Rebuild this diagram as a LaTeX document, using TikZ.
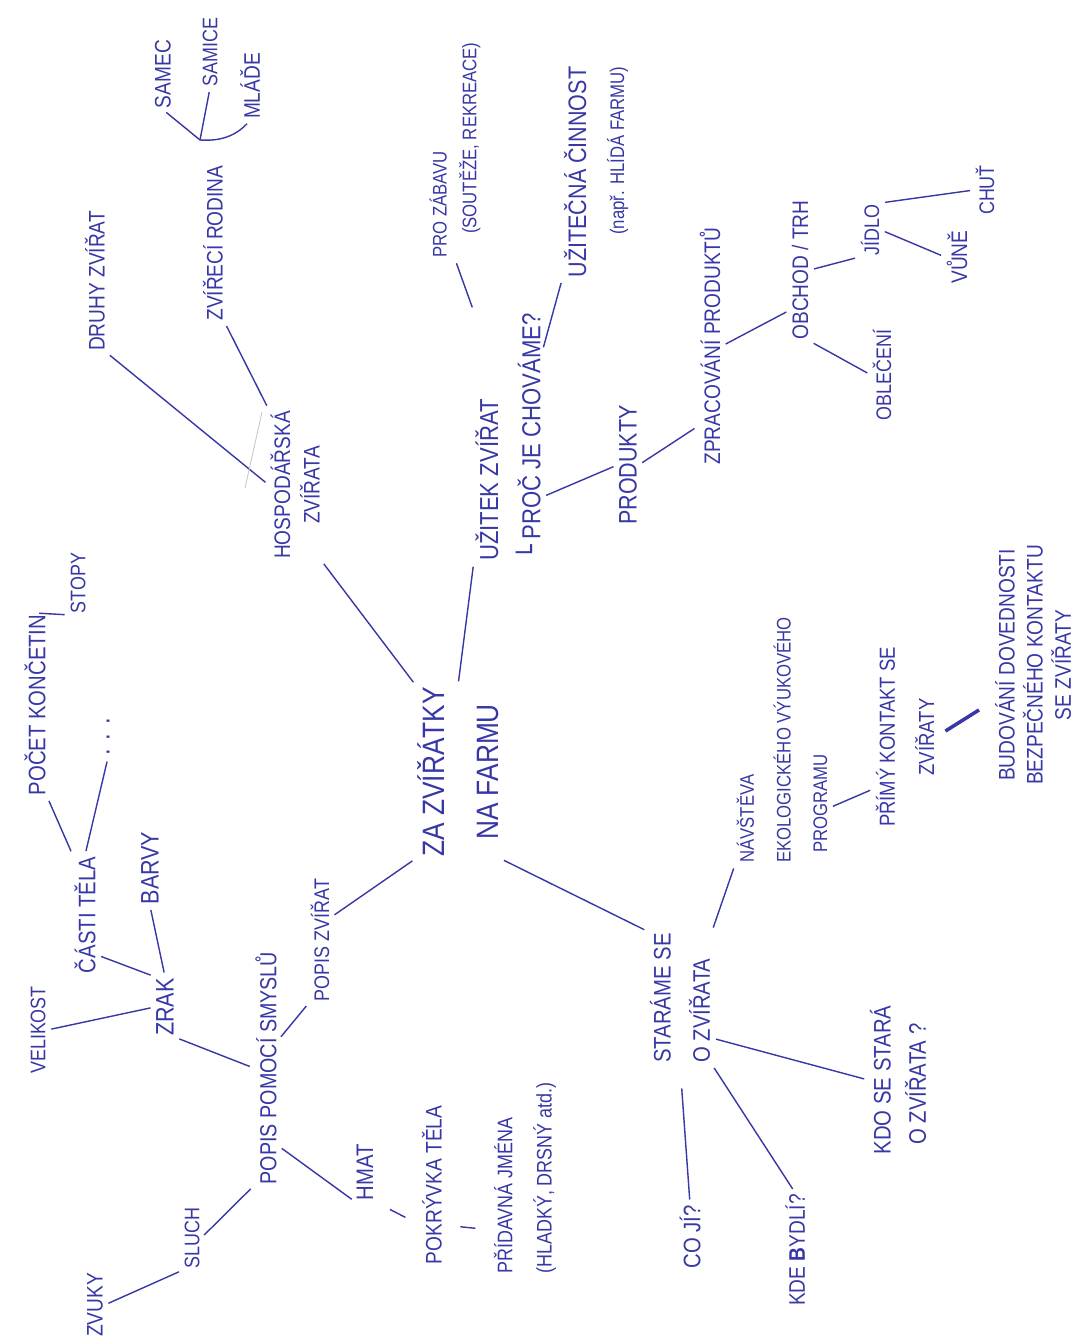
\documentclass[tikz,border=0pt]{standalone}
\usepackage{fontspec}
\setmainfont{Liberation Sans}[FakeStretch=0.85]
\newfontfamily\boxfont{DejaVu Sans}
\definecolor{ink}{RGB}{55,55,165}
\newcommand{\pen}[2]{\fontsize{#1}{#2}\selectfont}
\tikzset{
  idea/.style={rotate=90, text=ink, inner sep=1pt, align=center},
  link/.style={draw=ink, line width=1pt, shorten <=3pt, shorten >=3pt},
  tick/.style={link, shorten <=12pt, shorten >=12pt},
  branch/.style={draw=ink, line width=1pt, shorten >=3pt},
}

\begin{document}
\begin{tikzpicture}[x=0.025cm, y=-0.025cm]
        \useasboundingbox (0,0) rectangle (1080,1342);

        % Centre of the map
        \node[idea, font=\pen{22}{38}] (farm) at (458,772) {ZA ZVÍŘÁTKY\\NA FARMU};

        % Hospodarska zvirata
        \node[idea, font=\pen{16}{21}] (hosp) at (295,485) {HOSPODÁŘSKÁ\\ZVÍŘATA};
        \node[idea, font=\pen{16}{19}] (druhy) at (95,281) {DRUHY ZVÍŘAT};
        \node[idea, font=\pen{16}{19}] (rodina) at (213,243) {ZVÍŘECÍ RODINA};
        \node[idea, font=\pen{16}{19}] (samec) at (163,74) {SAMEC};
        \node[idea, font=\pen{15}{18}] (samice) at (210,52) {SAMICE};
        \node[idea, font=\pen{16}{19}] (mlade) at (250,86) {MLÁĎE};
        \coordinate (fork) at (200,140);

        % Uzitek zvirat
        \node[idea, align=left, font=\pen{18.5}{30}] (uzitek) at (508,437) {UŽITEK ZVÍŘAT\\{\boxfont └} PROČ JE CHOVÁME?};
        \node[idea, align=left, font=\pen{14}{21}] (zabava) at (455,150) {PRO ZÁBAVU\\\hspace*{1.2em}(SOUTĚŽE, REKREACE)};
        \node[idea, align=right, font=\pen{18}{27}] (cinnost) at (596,172) {UŽITEČNÁ ČINNOST\\{\pen{14}{27}(např. HLÍDÁ FARMU)}};
        \node[idea, font=\pen{18}{22}] (produkty) at (628,465) {PRODUKTY};
        \node[idea, font=\pen{16}{20}] (zprac) at (710,346) {ZPRACOVÁNÍ PRODUKTŮ};
        \node[idea, font=\pen{16}{20}] (obchod) at (800,270) {OBCHOD / TRH};
        \node[idea, font=\pen{15}{19}] (obleceni) at (882,375) {OBLEČENÍ};
        \node[idea, font=\pen{15}{19}] (jidlo) at (870,230) {JÍDLO};
        \node[idea, font=\pen{16}{19}] (vune) at (957,257) {VŮNĚ};
        \node[idea, font=\pen{15}{19}] (chut) at (985,190) {CHUŤ};

        % Starame se o zvirata
        \node[idea, align=left, font=\pen{17}{28}] (starame) at (680,998) {STARÁME SE\\O ZVÍŘATA};
        \node[idea, align=left, font=\pen{14}{26}] (navsteva) at (782,740) {NÁVŠTĚVA\\EKOLOGICKÉHO VÝUKOVÉHO\\\hspace*{0.5em}PROGRAMU};
        \node[idea, font=\pen{15.5}{28}] (primy) at (905,737) {PŘÍMÝ KONTAKT SE\\ZVÍŘATY};
        \node[idea, font=\pen{16}{20}] (budovani) at (1033,665) {BUDOVÁNÍ DOVEDNOSTI\\BEZPEČNÉHO KONTAKTU\\SE ZVÍŘATY};
        \node[idea, align=left, font=\pen{17}{25}] (kdo) at (898,1080) {KDO SE STARÁ\\\hspace*{0.4em}O ZVÍŘATA ?};
        \node[idea, font=\pen{16}{20}] (kde) at (795,1250) {KDE \textbf{B}YDLÍ?};
        \node[idea, font=\pen{17}{20}] (coji) at (690,1237) {CO JÍ?};

        % Popis zvirat
        \node[idea, font=\pen{15}{19}] (popis) at (320,940) {POPIS ZVÍŘAT};
        \node[idea, font=\pen{16.5}{20}] (smysly) at (266,1068) {POPIS POMOCÍ SMYSLŮ};
        \node[idea, font=\pen{18}{20}] (zrak) at (165,1007) {ZRAK};
        \node[idea, font=\pen{15}{19}] (velikost) at (38,1030) {VELIKOST};
        \node[idea, font=\pen{17}{20}] (casti) at (85,915) {ČÁSTI TĚLA};
        \node[idea, font=\pen{17}{20}] (pocet) at (35,705) {POČET KONČETIN};
        \node[idea, font=\pen{15}{19}] (stopy) at (78,583) {STOPY};
        \node[idea, font=\pen{20}{20}] (dots) at (108,737) {. . .};
        \node[idea, font=\pen{18}{20}] (barvy) at (150,868) {BARVY};
        \node[idea, font=\pen{15}{19}] (sluch) at (192,1238) {SLUCH};
        \node[idea, font=\pen{16}{19}] (zvuky) at (95,1305) {ZVUKY};
        \node[idea, font=\pen{17}{19}] (hmat) at (365,1172) {HMAT};
        \node[idea, font=\pen{16}{19}] (pokryvka) at (432,1185) {POKRÝVKA TĚLA};
        \node[idea, align=left, font=\pen{15}{28}] (pridavna) at (525,1178) {PŘÍDAVNÁ JMÉNA\\(HLADKÝ, DRSNÝ atd.)};

        % Lines of the upper half
        \draw[link] (farm.north east) -- (hosp.south west);
        \draw[link] (hosp.north) -- (druhy.south west);
        \draw[gray!45, line width=0.6pt] (262,412) -- (245,488);
        \draw[link] (hosp.north east) -- (rodina.south west);
        \draw[branch] (fork) -- (samec.west);
        \draw[branch] (fork) -- (samice.west);
        \draw[branch] (fork) to[bend right=25] (mlade.west);
        \draw[link] (farm.east) -- (uzitek.north west);
        \draw[link] (uzitek.north east) -- (zabava.west);
        \draw[link] ([yshift=-1cm]uzitek.south east) -- (cinnost.north west);
        \draw[link] ([yshift=-1.5cm]uzitek.south) -- (produkty.north);
        \draw[link] (produkty.south) -- ([yshift=1cm]zprac.north west);
        \draw[link] (zprac.south) -- ([yshift=-1cm]obchod.north);
        \draw[link] (obchod.south west) -- (obleceni.north);
        \draw[link] (obchod.south) -- (jidlo.north west);
        \draw[link] (jidlo.south) -- (vune.north);
        \draw[link] (jidlo.south east) -- (chut.north);

        % Lines of the lower half
        \draw[link] (farm.south west) -- (starame.north east);
        \draw[link] (starame.south east) -- (navsteva.north west);
        \draw[link] ([yshift=-1.7cm]navsteva.south) -- ([yshift=1cm]primy.north west);
        \draw[tick, line width=2.5pt, shorten <=8pt, shorten >=12pt] (primy.south) -- ([yshift=-0.9cm]budovani.north);
        \draw[link] ([yshift=-1cm]starame.south) -- (kdo.north);
        \draw[link] (starame.south west) -- (kde.east);
        \draw[link, shorten <=0.6cm] (starame.west) -- (coji.east);
        \draw[link] (farm.north west) -- ([yshift=-1cm]popis.south east);
        \draw[link] (popis.north west) -- ([yshift=0.7cm]smysly.south);
        \draw[link] (smysly.north) -- (zrak.south west);
        \draw[link] (zrak.north) -- (velikost.south);
        \draw[link] (zrak.north east) -- ([yshift=-1cm]casti.south);
        \draw[link] (zrak.east) -- (barvy.west);
        \draw[link] (casti.north east) -- (pocet.south west);
        \draw[link] (casti.east) -- (dots.west);
        \draw[link] (pocet.east) -- (stopy.north west);
        \draw[link] (smysly.north west) -- (sluch.south);
        \draw[link] (sluch.north west) -- (zvuky.south);
        \draw[link] ([yshift=1cm]smysly.south west) -- (hmat.north west);
        \draw[tick] (hmat.south west) -- ([yshift=-1cm]pokryvka.north);
        \draw[tick] ([yshift=-1cm]pokryvka.south) -- ([yshift=-1.3cm]pridavna.north);
\end{tikzpicture}
\end{document}
